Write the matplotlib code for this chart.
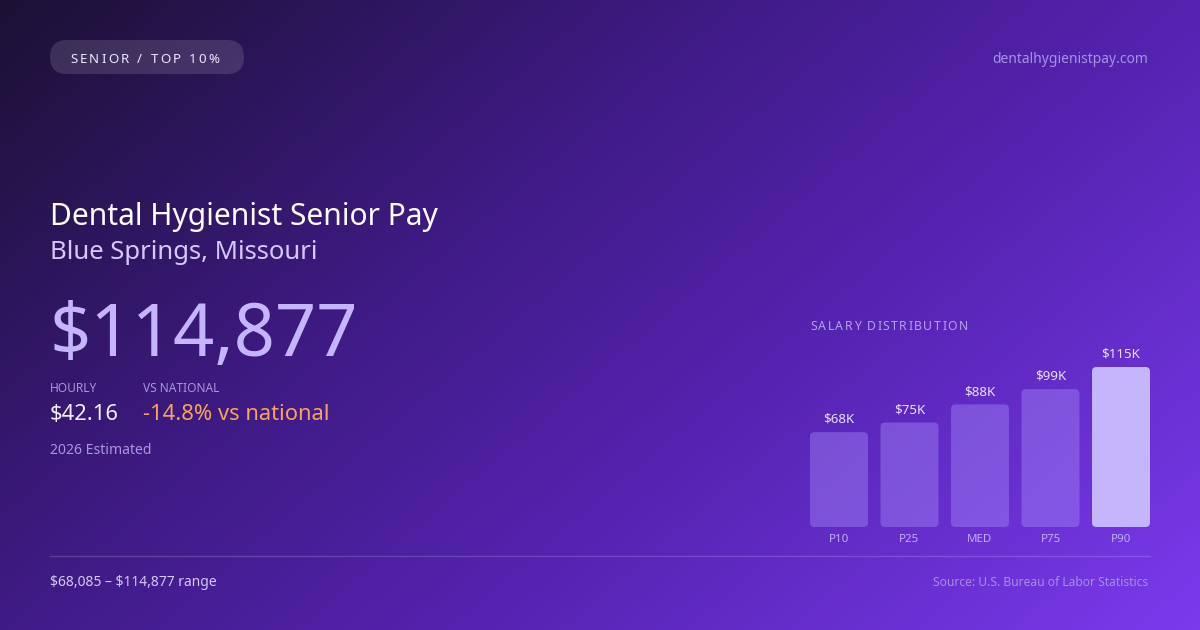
import numpy as np
import matplotlib
matplotlib.use("Agg")
import matplotlib.pyplot as plt
from matplotlib.colors import LinearSegmentedColormap
from matplotlib.patches import FancyBboxPatch

# ---- data ----
categories = ["P10", "P25", "MED", "P75", "P90"]
salaries = [68085, 75000, 88000, 99000, 114877]
bar_labels = ["$68K", "$75K", "$88K", "$99K", "$115K"]

badge_text = "SENIOR / TOP 10%"
site_text = "dentalhygienistpay.com"
title_text = "Dental Hygienist Senior Pay"
subtitle_text = "Blue Springs, Missouri"
headline_value = "$114,877"
hourly_label = "HOURLY"
hourly_value = "$42.16"
national_label = "VS NATIONAL"
national_value = "-14.8% vs national"
estimate_text = "2026 Estimated"
dist_title = "SALARY DISTRIBUTION"
range_text = "$68,085 \u2013 $114,877 range"
source_text = "Source: U.S. Bureau of Labor Statistics"

plt.rcParams['font.family'] = ['Noto Sans', 'DejaVu Sans']
plt.rcParams['text.parse_math'] = False

W, H = 1200, 630
fig = plt.figure(figsize=(12, 6.3), dpi=100)

# ---- background ----
bg = fig.add_axes([0, 0, 1, 1])
bg.set_xlim(0, W)
bg.set_ylim(H, 0)
bg.axis('off')
xx, yy = np.meshgrid(np.linspace(0, 1, 300), np.linspace(0, 1, 160))
t = np.clip(xx * 0.62 + yy * 0.38, 0, 1)
cmap = LinearSegmentedColormap.from_list(
    "bgc", [(0.0, "#1b1134"), (0.35, "#3d1a80"), (0.62, "#5423b0"), (1.0, "#7b3aec")])
bg.imshow(t, cmap=cmap, extent=[0, W, H, 0], aspect='auto', interpolation='bicubic', zorder=0)

renderer = fig.canvas.get_renderer()


def spaced_text(ax, x, y, s, spacing, **kw):
    # draw text with letter spacing (pixels)
    cx = x
    fkw = {k: v for k, v in kw.items() if k in ("fontsize", "family")}
    for ch in s:
        tt = ax.text(cx, y, ch, **kw)
        if ch == " ":
            probe = ax.text(0, 0, "a a", **fkw)
            probe2 = ax.text(0, 0, "aa", **fkw)
            w = probe.get_window_extent(renderer).width - probe2.get_window_extent(renderer).width
            probe.remove(); probe2.remove()
        else:
            w = tt.get_window_extent(renderer).width
        cx += w + spacing
    return cx


# badge pill
pill = FancyBboxPatch((50, 40), 194, 34, boxstyle="round,pad=0,rounding_size=17",
                      fc=(1, 1, 1, 0.13), ec="none", zorder=2)
bg.add_patch(pill)
spaced_text(bg, 70, 63, badge_text, 2.3, fontsize=9.6, color="#ece6ff", zorder=3)

bg.text(1148, 63, site_text, fontsize=10.0, color="#a890e8", ha="right", zorder=3)

bg.text(50, 225, title_text, fontsize=21.6, color="#ffffff", zorder=3)
bg.text(50, 259, subtitle_text, fontsize=18.5, color="#d6c8fa", zorder=3)
bg.text(49, 356, headline_value, fontsize=52, color="#c4b5fd", zorder=3)

bg.text(50, 392, hourly_label, fontsize=8.6, color="#a994e0", zorder=3)
bg.text(143, 392, national_label, fontsize=8.6, color="#a994e0", zorder=3)
bg.text(50, 420, hourly_value, fontsize=15.8, color="#f3efff", zorder=3)
bg.text(143, 420, national_value, fontsize=15.8, color="#f7a25e", zorder=3)
bg.text(50, 454, estimate_text, fontsize=10.1, color="#a996dc", zorder=3)

spaced_text(bg, 810, 330, dist_title, 1.5, fontsize=8.8, color="#b4a2ee", zorder=3)

bg.plot([50, 1150], [556, 556], color=(1, 1, 1, 0.16), lw=1, zorder=2)
bg.text(50, 586, range_text, fontsize=10.0, color="#d4c8f5", zorder=3)
bg.text(1148, 586, source_text, fontsize=8.7, color="#a48fe0", ha="right", zorder=3)

# ---- bar chart ----
left_px, right_px = 810, 1150
bottom_px, top_px = 527, 367
ax = fig.add_axes([left_px / W, (H - bottom_px) / H, (right_px - left_px) / W, (bottom_px - top_px) / H])
ax.patch.set_alpha(0)
for sp in ax.spines.values():
    sp.set_visible(False)

n = len(categories)
step_px = (right_px - left_px) / (n - 1 + 58 / 70.5)
bw = 58 / step_px
ax.set_xlim(-bw / 2, n - 1 + bw / 2)
ax.set_ylim(0, max(salaries))

px_x = (n - 1 + bw) / (right_px - left_px)        # data x per pixel
px_y = max(salaries) / (bottom_px - top_px)        # data y per pixel
r_px = 4.5
colors = [(0.655, 0.545, 0.98, 0.42)] * (n - 1) + ["#c4b5fd"]
for i, (v, c, lab) in enumerate(zip(salaries, colors, bar_labels)):
    p = FancyBboxPatch((i - bw / 2, 0), bw, v,
                       boxstyle=f"round,pad=0,rounding_size={r_px * px_x}",
                       mutation_aspect=px_y / px_x, fc=c, ec="none", clip_on=False)
    ax.add_patch(p)
    ax.annotate(lab, (i, v), xytext=(0, 4.5), textcoords="offset points",
                ha="center", va="bottom", fontsize=9.6, color="#e8e0ff", annotation_clip=False)

ax.set_xticks(range(n))
ax.set_xticklabels(categories, fontsize=8.3, color="#c0b0f5")
ax.tick_params(axis='x', length=0, pad=5)
ax.set_yticks([])

fig.savefig("out.png", dpi=100)
